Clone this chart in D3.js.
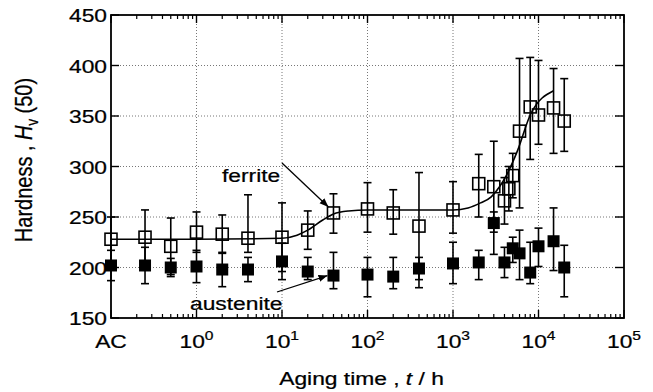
<!DOCTYPE html>
<html>
<head>
<meta charset="utf-8">
<script src="https://cdn.jsdelivr.net/npm/d3@7"></script>
<style>
  body { margin: 0; background: #fff; }
  text { font-family: "Liberation Sans", Arial, sans-serif; fill: #000; stroke: #000; stroke-width: 0.25px; }
</style>
</head>
<body>
<div id="chart"></div>
<script>
// aging time in hours, AC (as cast) is drawn at the 10^-1 position
var ferriteT   = [0.1, 0.25, 0.5, 1, 2, 4, 10, 20, 40, 100, 200, 400, 1000, 2000, 3000, 4000, 4500, 5000, 6000, 8000, 10000, 15000, 20000];
var ferriteHv  = [228, 230, 221, 235, 233, 229, 230, 237, 254, 258, 254, 241, 257, 283, 280, 266, 278, 291, 335, 359, 351, 358, 345];
var ferriteLo  = [206, 203, 193, 215, 214, 215, 196, 218, 234, 235, 233, 188, 234, 250, 235, 243, 256, 269, 259, 307, 322, 313, 315];
var ferriteHi  = [250, 257, 249, 255, 252, 272, 264, 256, 273, 284, 277, 294, 285, 312, 325, 289, 300, 313, 407, 408, 405, 397, 387];

var austeniteT  = [0.1, 0.25, 0.5, 1, 2, 4, 10, 20, 40, 100, 200, 400, 1000, 2000, 3000, 4000, 5000, 6000, 8000, 10000, 15000, 20000];
var austeniteHv = [202, 202, 200, 201, 198, 198, 206, 196, 192, 193, 191, 199, 204, 205, 244, 205, 219, 214, 195, 221, 226, 200];
var austeniteLo = [187, 184, 191, 185, 181, 186, 188, 188, 179, 171, 179, 180, 184, 188, 213, 190, 205, 188, 184, 201, 197, 171];
var austeniteHi = [217, 220, 209, 217, 215, 210, 224, 210, 215, 210, 210, 210, 225, 217, 255, 220, 230, 237, 225, 239, 259, 222];

// hand drawn trend line through the ferrite data
var fitT  = [0.1, 1, 10, 15, 20, 30, 40, 60, 100, 1000, 1500, 2100, 2800, 3500, 4200, 5700, 8100, 15000];
var fitHv = [228, 228, 229, 232, 237, 247, 253, 256, 257, 257, 259, 264, 270, 280, 291, 316, 352, 375];

var yTicks = [150, 200, 250, 300, 350, 400, 450];
var yGrid = [200, 250, 300, 350, 400];
var xTicks = [0.1, 1, 10, 100, 1000, 10000, 100000];
var xTickExp = ["AC", "0", "1", "2", "3", "4", "5"];
var xGrid = [1, 10, 100, 1000, 10000];

var margin = { top: 15, right: 29, bottom: 74, left: 111 },
    width = 653 - margin.left - margin.right,
    height = 392 - margin.top - margin.bottom;

var svg = d3.select("#chart")
    .append("svg")
    .attr("width", 653)
    .attr("height", 392);

var g = svg.append("g")
    .attr("transform", "translate(" + margin.left + "," + margin.top + ")");

var x = d3.scaleLog().domain([0.1, 100000]).range([0, width]);
var y = d3.scaleLinear().domain([150, 450]).range([height, 0]);

// text is a bit wide in the original, so stretch it sideways
function label(parent, px, py, anchor) {
    return parent.append("g")
        .attr("transform", "translate(" + px + "," + py + ") scale(1.2,1)")
        .append("text")
        .attr("text-anchor", anchor)
        .style("font-size", "19px");
}

// dotted grid
g.selectAll("hgrid").data(yGrid).enter().append("line")
    .attr("x1", 0).attr("x2", width)
    .attr("y1", d => y(d)).attr("y2", d => y(d))
    .attr("stroke", "#777").attr("stroke-width", 1).attr("stroke-dasharray", "1,2");
g.selectAll("vgrid").data(xGrid).enter().append("line")
    .attr("x1", d => x(d)).attr("x2", d => x(d))
    .attr("y1", 0).attr("y2", height)
    .attr("stroke", "#777").attr("stroke-width", 1).attr("stroke-dasharray", "1,2");

// minor log ticks
var minor = [];
for (var dec = 0.1; dec < 100000; dec *= 10) {
    for (var m = 2; m <= 9; m++) minor.push(dec * m);
}
g.selectAll("minB").data(minor).enter().append("line")
    .attr("x1", d => x(d)).attr("x2", d => x(d))
    .attr("y1", height).attr("y2", height - 4)
    .attr("stroke", "black").attr("stroke-width", 1.2);
g.selectAll("minT").data(minor).enter().append("line")
    .attr("x1", d => x(d)).attr("x2", d => x(d))
    .attr("y1", 0).attr("y2", 4)
    .attr("stroke", "black").attr("stroke-width", 1.2);

// major ticks
g.selectAll("majB").data(xTicks).enter().append("line")
    .attr("x1", d => x(d)).attr("x2", d => x(d))
    .attr("y1", height).attr("y2", height - 8)
    .attr("stroke", "black").attr("stroke-width", 1.4);
g.selectAll("majT").data(xTicks).enter().append("line")
    .attr("x1", d => x(d)).attr("x2", d => x(d))
    .attr("y1", 0).attr("y2", 8)
    .attr("stroke", "black").attr("stroke-width", 1.4);
g.selectAll("majL").data(yTicks).enter().append("line")
    .attr("x1", 0).attr("x2", 8)
    .attr("y1", d => y(d)).attr("y2", d => y(d))
    .attr("stroke", "black").attr("stroke-width", 1.4);
g.selectAll("majR").data(yTicks).enter().append("line")
    .attr("x1", width - 9).attr("x2", width)
    .attr("y1", d => y(d)).attr("y2", d => y(d))
    .attr("stroke", "black").attr("stroke-width", 1.4);

// trend line
var line = d3.line()
    .x((d, i) => x(fitT[i]))
    .y(d => y(d))
    .curve(d3.curveMonotoneX);
g.append("path")
    .datum(fitHv)
    .attr("d", line)
    .attr("fill", "none")
    .attr("stroke", "black")
    .attr("stroke-width", 1.6);

// error bars
function errorBars(ts, lo, hi) {
    var idx = d3.range(ts.length);
    g.selectAll(null).data(idx).enter().append("line")
        .attr("x1", i => x(ts[i])).attr("x2", i => x(ts[i]))
        .attr("y1", i => y(lo[i])).attr("y2", i => y(hi[i]))
        .attr("stroke", "black").attr("stroke-width", 1.6);
    [lo, hi].forEach(function (arr) {
        g.selectAll(null).data(idx).enter().append("line")
            .attr("x1", i => x(ts[i]) - 4).attr("x2", i => x(ts[i]) + 4)
            .attr("y1", i => y(arr[i])).attr("y2", i => y(arr[i]))
            .attr("stroke", "black").attr("stroke-width", 1.6);
    });
}
errorBars(austeniteT, austeniteLo, austeniteHi);
errorBars(ferriteT, ferriteLo, ferriteHi);

var s = 12;
g.selectAll("aust").data(d3.range(austeniteT.length)).enter().append("rect")
    .attr("x", i => x(austeniteT[i]) - s / 2)
    .attr("y", i => y(austeniteHv[i]) - s / 2)
    .attr("width", s).attr("height", s)
    .attr("fill", "black");
g.selectAll("ferr").data(d3.range(ferriteT.length)).enter().append("rect")
    .attr("x", i => x(ferriteT[i]) - s / 2)
    .attr("y", i => y(ferriteHv[i]) - s / 2)
    .attr("width", s).attr("height", s)
    .attr("fill", "none")
    .attr("stroke", "black")
    .attr("stroke-width", 1.6);

// frame
g.append("rect")
    .attr("width", width).attr("height", height)
    .attr("fill", "none").attr("stroke", "black").attr("stroke-width", 1.8);

// y tick labels
yTicks.forEach(function (v) {
    label(svg, margin.left - 4, margin.top + y(v) + 7, "end").text(v);
});

// x tick labels
xTicks.forEach(function (v, i) {
    var t = label(svg, margin.left + x(v), 348, "middle");
    if (xTickExp[i] === "AC") {
        t.text("AC");
    } else {
        t.append("tspan").text("10");
        t.append("tspan").attr("dy", -8).style("font-size", "13px").text(xTickExp[i]);
    }
});

// axis titles
var xt = label(svg, margin.left + width / 2 - 6, 385, "middle");
xt.append("tspan").text("Aging time , ");
xt.append("tspan").style("font-style", "italic").text("t");
xt.append("tspan").text(" / h");

var yt = svg.append("g")
    .attr("transform", "translate(32,160) rotate(-90) scale(1,1.2)")
    .append("text")
    .attr("text-anchor", "middle")
    .style("font-size", "20px");
yt.append("tspan").text("Hardness , ");
yt.append("tspan").style("font-style", "italic").text("H");
yt.append("tspan").attr("dy", 5).style("font-size", "13px").text("v");
yt.append("tspan").attr("dy", -5).text(" (50)");

// annotations
svg.append("defs").append("marker")
    .attr("id", "arr")
    .attr("markerUnits", "userSpaceOnUse")
    .attr("markerWidth", 10).attr("markerHeight", 8)
    .attr("refX", 9).attr("refY", 3.5)
    .attr("orient", "auto")
    .append("path").attr("d", "M0,0 L9,3.5 L0,7 z").attr("fill", "black");

label(svg, 222, 182, "start").text("ferrite");
svg.append("line")
    .attr("x1", 282).attr("y1", 163)
    .attr("x2", margin.left + x(40) - 5).attr("y2", margin.top + y(254) - 6)
    .attr("stroke", "black").attr("stroke-width", 1.3)
    .attr("marker-end", "url(#arr)");

label(svg, 190, 310, "start").text("austenite");
svg.append("line")
    .attr("x1", 277).attr("y1", 292)
    .attr("x2", margin.left + x(40) - 6).attr("y2", margin.top + y(192))
    .attr("stroke", "black").attr("stroke-width", 1.3)
    .attr("marker-end", "url(#arr)");
</script>
</body>
</html>
